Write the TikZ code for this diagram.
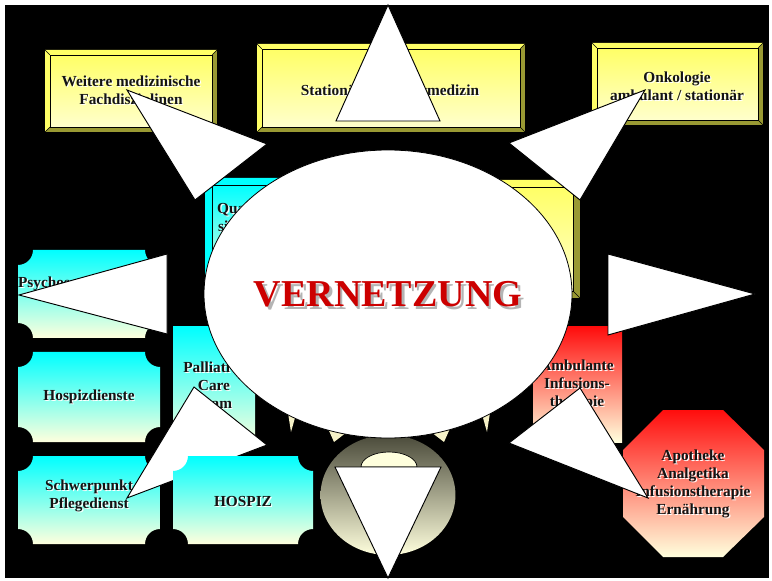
\documentclass[tikz,border=0pt]{standalone}
\usepackage{fontspec}
\setmainfont{Liberation Serif}
\definecolor{ylight}{HTML}{FFFF66}
\definecolor{ydark}{HTML}{999933}
\definecolor{ybot}{HTML}{FFFFCC}
\definecolor{cyanlight}{HTML}{00FFFF}
\definecolor{cream}{HTML}{FFFFDD}
\definecolor{redtop}{HTML}{FF0D0D}
\definecolor{vred}{HTML}{CC0000}
\definecolor{vshadow}{HTML}{B4B4B4}
\definecolor{txt}{HTML}{141414}
\definecolor{sundark}{HTML}{4A4A3A}
\definecolor{spikecol}{HTML}{F6F2C8}

% bevelled box: x1,y1,x2,y2,bevel,light,dark,innertop,innerbottom
\newcommand\bevelbox[9]{%
  \fill[#7] (#1,#2) rectangle (#3,#4);
  \fill[#6] (#1,#2) -- (#3,#2) -- ({#3-#5},{#2+#5}) -- ({#1+#5},{#2+#5}) -- ({#1+#5},{#4-#5}) -- (#1,#4) -- cycle;
  \draw[edgeline] (#1,#2) -- ({#1+#5},{#2+#5}) (#3,#2) -- ({#3-#5},{#2+#5}) (#3,#4) -- ({#3-#5},{#4-#5}) (#1,#4) -- ({#1+#5},{#4-#5});
  \shade[top color=#8, bottom color=#9, draw=black, line width=0.5pt] ({#1+#5},{#2+#5}) rectangle ({#3-#5},{#4-#5});
}
% plaque with concave corners: x1,y1,x2,y2
\newcommand\plaque[4]{%
  \shade[top color=cyanlight, bottom color=cream]
    ({#1+15},#2) -- ({#3-15},#2) arc[start angle=180,end angle=270,radius=11.25pt]
    -- (#3,{#4-15}) arc[start angle=90,end angle=180,radius=11.25pt]
    -- ({#1+15},#4) arc[start angle=0,end angle=90,radius=11.25pt]
    -- (#1,{#2+15}) arc[start angle=-90,end angle=0,radius=11.25pt] -- cycle;
}
% label with white shadow: name, coordinate, text
\newcommand\slabel[3]{%
  \node[lbl, text=white, xshift=0.9pt, yshift=-0.9pt] at (#2) {#3};
  \node[lbl] (#1) at (#2) {#3};
}

\begin{document}
\begin{tikzpicture}[x=0.75pt, y=-0.75pt,
  lbl/.style={font=\fontsize{11.5}{13.5}\selectfont\bfseries, align=center, text=txt, inner sep=0pt},
  vfont/.style={font=\fontsize{28.5}{30}\selectfont\bfseries, inner sep=0pt},
  edgeline/.style={draw=black, line width=0.4pt},
  tri/.style={fill=white, draw=black, line width=0.7pt, line join=miter}]
\useasboundingbox (0,0) rectangle (772,581);
\fill[white] (0,0) rectangle (772,581);
\fill[black] (5,5) rectangle (769,578);

% top yellow boxes
\bevelbox{45}{50}{217}{132}{5}{ylight}{ydark}{ylight}{ybot}
\slabel{weitere}{131,92}{Weitere medizinische\\Fachdisziplinen}
\bevelbox{257}{44}{525}{132}{5}{ylight}{ydark}{ylight}{ybot}
\slabel{stat}{390,90}{Stationäre Palliativmedizin}
\bevelbox{592}{43}{763}{125}{5}{ylight}{ydark}{ylight}{ybot}
\slabel{onko}{677,86}{Onkologie\\ambulant / stationär}

% boxes behind the ellipse
\bevelbox{205}{178}{300}{300}{7}{cyanlight}{cyanlight}{cyanlight}{cream}
\slabel{quali}{250,219}{Qualitäts-\\sicherung}
\bevelbox{475}{180}{580}{298}{7}{ylight}{ydark}{ylight}{ybot}

% left plaques
\plaque{18}{250}{160}{338}
\slabel{psych}{89,293}{Psychosoziale Dienste\\Seelsorge}
\plaque{18}{352}{160}{442}
\slabel{hdienst}{89,397}{Hospizdienste}
\plaque{18}{456}{160}{544}
\slabel{pflege}{89,496}{Schwerpunkt\\Pflegedienst}

% side rectangles
\shade[top color=cyanlight, bottom color=cream] (173,327) rectangle (255,445);
\slabel{pct}{214,385}{Palliative\\Care\\Team}
\shade[top color=redtop, bottom color=cream] (533,327) rectangle (622,442);
\slabel{amb}{577,385}{Ambulante\\Infusions-\\therapie}

% octagon
\shade[top color=redtop, bottom color=cream] (663,410) -- (723,410) -- (764,450) -- (764,517) -- (723,557) -- (663,557) -- (623,517) -- (623,450) -- cycle;
\slabel{apo}{693,484}{Apotheke\\Analgetika\\Infusionstherapie\\Ernährung}

% spikes and disc below the ellipse
\fill[spikecol] (286,400) -- (300,400) -- (291,432) -- cycle;
\fill[spikecol] (326,424) -- (347,432) -- (334,442) -- cycle;
\fill[spikecol] (452,424) -- (431,432) -- (444,442) -- cycle;
\fill[spikecol] (492,400) -- (478,400) -- (487,432) -- cycle;
\shade[top color=sundark, bottom color=cream] (388,495) ellipse [x radius=50.6pt, y radius=45pt];
\filldraw[fill=cream, draw=black, line width=0.5pt] (361,467) arc[start angle=180, end angle=0, x radius=21pt, y radius=11.25pt] -- cycle;

% central ellipse
\draw[fill=white, line width=0.6pt] (388,294) ellipse [x radius=138pt, y radius=108pt];
\node[vfont, text=vred] (vz) at (388,296) {\makebox[0pt][l]{\kern2pt\raisebox{-2pt}{\textcolor{vshadow}{VERNETZUNG}}}VERNETZUNG};

% triangles
\draw[tri] (388,5) -- (440,121) -- (336,121) -- cycle;
\draw[tri] (127,90) -- (267,144) -- (195,200) -- cycle;
\draw[tri] (645,90) -- (509,143) -- (580,200) -- cycle;
\draw[tri] (19,295) -- (167,254) -- (167,334) -- cycle;
\draw[tri] (755,294) -- (608,254) -- (608,335) -- cycle;
\draw[tri] (194,387) -- (267,445) -- (127,498) -- cycle;
\draw[tri] (580,388) -- (509,443) -- (648,498) -- cycle;
\draw[tri] (388,578) -- (335,467) -- (441,467) -- cycle;

% HOSPIZ on top of the lower-left triangle
\plaque{173}{456}{313}{544}
\slabel{hospiz}{243,501}{HOSPIZ}
\end{tikzpicture}
\end{document}
